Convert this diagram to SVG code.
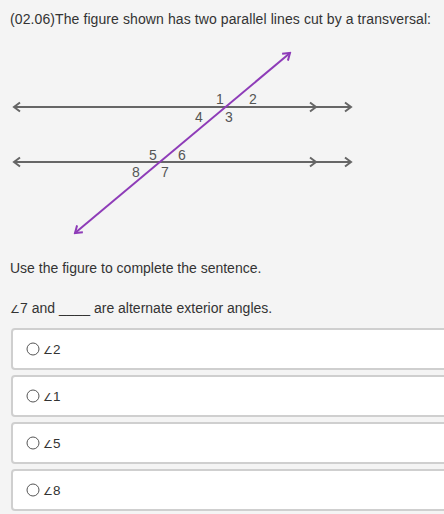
<svg xmlns="http://www.w3.org/2000/svg" width="444" height="514" viewBox="0 0 444 514">
<style>
text{font-family:"Liberation Sans",Arial,sans-serif;fill:#333;}
.t{font-size:14px;}
.n{font-size:14px;fill:#555;}
.o{font-size:13.5px;}
.a{font-size:11px;}
.ln{stroke:#666;stroke-width:2;fill:none;}
.tr{stroke:#8e3cb8;stroke-width:2;fill:none;}
.box{fill:#fff;stroke:#cfcfcf;stroke-width:2;}
.rad{fill:#fff;stroke:#555;stroke-width:1;}
</style>
<defs>
<marker id="ag" viewBox="-8 -6 10 12" markerWidth="10" markerHeight="12" refX="0" refY="0" orient="auto-start-reverse" markerUnits="userSpaceOnUse">
<path d="M-6,-4.5 L0,0 L-6,4.5" fill="none" stroke="#666" stroke-width="2"/>
</marker>
<marker id="ap" viewBox="-8 -6 10 12" markerWidth="10" markerHeight="12" refX="0" refY="0" orient="auto-start-reverse" markerUnits="userSpaceOnUse">
<path d="M-6.5,-4.5 L0,0 L-6.5,4.5" fill="none" stroke="#8e3cb8" stroke-width="2"/>
</marker>
</defs>
<rect x="0" y="0" width="444" height="514" fill="#f4f4f4"/>
<text class="t" x="10" y="24" textLength="421" lengthAdjust="spacing">(02.06)The figure shown has two parallel lines cut by a transversal:</text>
<g id="connectors">
<path class="ln" d="M14,107 L316,107 L351,107" marker-start="url(#ag)" marker-mid="url(#ag)" marker-end="url(#ag)"/>
<path class="ln" d="M14,162 L316,162 L351,162" marker-start="url(#ag)" marker-mid="url(#ag)" marker-end="url(#ag)"/>
<path class="tr" d="M290,53 L75,233" marker-start="url(#ap)" marker-end="url(#ap)"/>
</g>
<g id="labels">
<text class="n" x="220" y="104" text-anchor="middle">1</text>
<text class="n" x="253" y="104" text-anchor="middle">2</text>
<text class="n" x="199" y="122" text-anchor="middle">4</text>
<text class="n" x="229" y="122" text-anchor="middle">3</text>
<text class="n" x="153" y="160" text-anchor="middle">5</text>
<text class="n" x="182" y="160" text-anchor="middle">6</text>
<text class="n" x="136" y="177" text-anchor="middle">8</text>
<text class="n" x="165" y="177" text-anchor="middle">7</text>
</g>
<text class="t" x="10" y="273">Use the figure to complete the sentence.</text>
<text class="t" x="10" y="313"><tspan class="a">∠</tspan>7 and ____ are alternate exterior angles.</text>
<g id="opt1">
<rect class="box" x="12" y="329" width="440" height="40" rx="3"/>
<circle class="rad" cx="33" cy="349" r="6"/>
<text class="o" x="43" y="354"><tspan class="a">∠</tspan>2</text>
</g>
<g id="opt2">
<rect class="box" x="12" y="376" width="440" height="40" rx="3"/>
<circle class="rad" cx="33" cy="396" r="6"/>
<text class="o" x="43" y="401"><tspan class="a">∠</tspan>1</text>
</g>
<g id="opt3">
<rect class="box" x="12" y="423" width="440" height="40" rx="3"/>
<circle class="rad" cx="33" cy="443" r="6"/>
<text class="o" x="43" y="448"><tspan class="a">∠</tspan>5</text>
</g>
<g id="opt4">
<rect class="box" x="12" y="470" width="440" height="40" rx="3"/>
<circle class="rad" cx="33" cy="490" r="6"/>
<text class="o" x="43" y="495"><tspan class="a">∠</tspan>8</text>
</g>
</svg>
